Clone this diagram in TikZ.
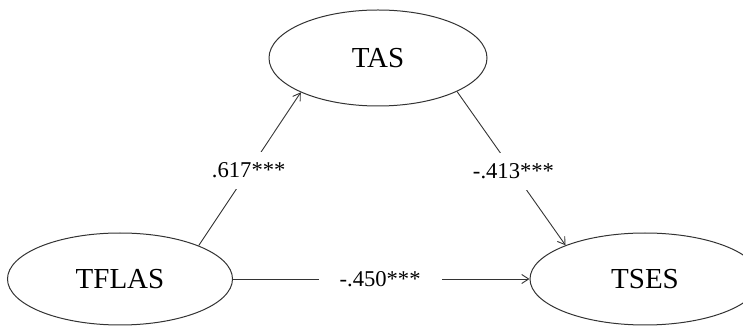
\documentclass[tikz,border=0pt]{standalone}
\usepackage{fontspec}
\setmainfont{Liberation Serif}
\usetikzlibrary{shapes.geometric,arrows.meta}
\begin{document}
\begin{tikzpicture}[x=1pt,y=1pt,
  var/.style={ellipse,draw=black!80,line width=1pt,inner sep=0pt,
    font=\fontsize{29}{34}\selectfont},
  path/.style={draw=black!80,line width=0.9pt,-{Straight Barb[length=7pt,width=9pt]}},
  coef/.style={fill=white,inner xsep=21pt,inner ysep=11pt,
    font=\fontsize{22.6}{26}\selectfont}]
\useasboundingbox (0,0) rectangle (743,326);
\node[var,minimum width=218pt,minimum height=96pt] (TAS) at (378,268) {TAS};
\node[var,minimum width=225pt,minimum height=92pt] (TFLAS) at (120,47) {TFLAS};
\node[var,minimum width=230pt,minimum height=92pt] (TSES) at (645,47) {TSES};
\draw[path] (TFLAS.23.6) -- node[coef,pos=0.49] (c1) {.617***} (TAS.204.7);
\draw[path] (TAS.337.5) -- node[coef,pos=0.52] (c2) {-.413***} (TSES.157.5);
\draw[path] (TFLAS.east) -- node[coef,pos=0.496] (c3) {-.450***} (TSES.west);
\end{tikzpicture}
\end{document}
